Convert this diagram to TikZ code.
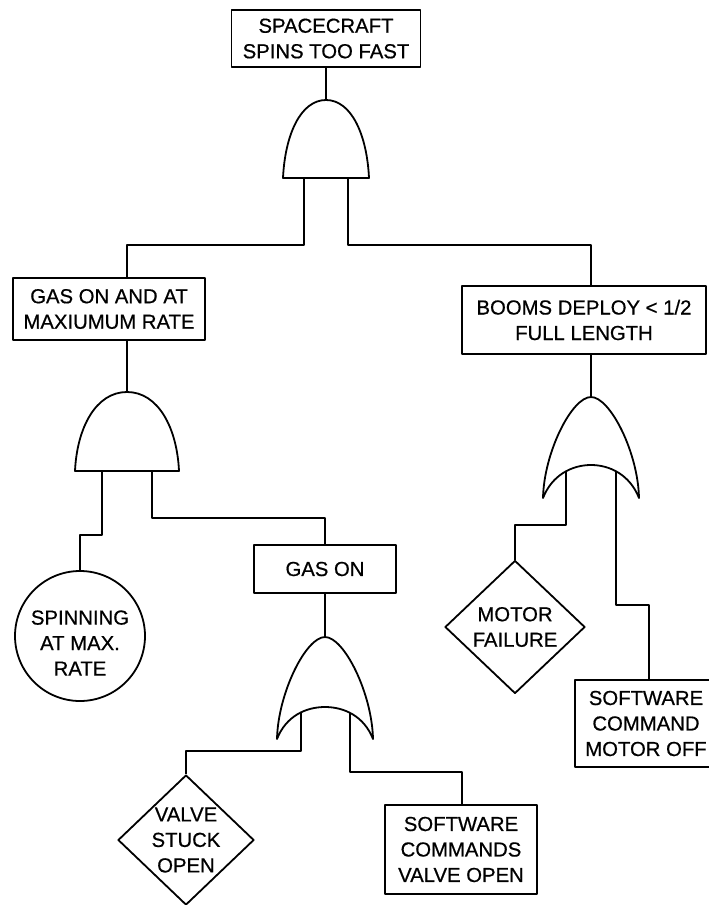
\documentclass[tikz,border=0pt]{standalone}
\usepackage{fontspec}
\setmainfont[FakeBold=0.6]{Liberation Sans}
\usetikzlibrary{shapes.geometric,calc}
\begin{document}
\begin{tikzpicture}[x=1pt,y=-1pt,
  line width=1.8pt, line join=round,
  lbl/.style={font=\fontsize{20.3}{25.5}\selectfont, align=center, inner sep=0pt},
  eventbox/.style={draw, rectangle, fill=white, lbl},
  gate/.style={draw, fill=white},
  basicev/.style={draw, circle, fill=white, inner sep=0pt, minimum size=130pt},
  undev/.style={draw, diamond, fill=white, inner sep=0pt}]
\path[use as bounding box] (0,0) rectangle (709,905);
\clip (0,0) rectangle (709,905);

% ---------- events ----------
\node[eventbox, minimum width=189pt, minimum height=57pt] (top) at (326,38.5)
  {SPACECRAFT\\SPINS TOO FAST};
\node[eventbox, minimum width=192pt, minimum height=62pt] (gasrate) at (109,309)
  {GAS ON AND AT\\MAXIUMUM RATE};
\node[eventbox, minimum width=244pt, minimum height=68pt] (booms) at (584,320)
  {BOOMS DEPLOY < 1/2\\FULL LENGTH};
\node[eventbox, minimum width=142pt, minimum height=48pt] (gason) at (325,569)
  {GAS ON};
\node[eventbox, minimum width=152pt, minimum height=89pt] (swvalve) at (461,849.5)
  {SOFTWARE\\COMMANDS\\VALVE OPEN};
\node[eventbox, minimum width=142pt, minimum height=87pt] (swmotor) at (646,723.5)
  {SOFTWARE\\COMMAND\\MOTOR OFF};

\node[basicev] (spin) at (80,636) {};
\node[lbl] (spintxt) at ($(spin.center)+(0,7)$) {SPINNING\\AT MAX.\\RATE};

\node[undev, minimum width=140pt, minimum height=133pt] (motor) at (515,627) {};
\node[lbl] (motortxt) at (motor.center) {MOTOR\\FAILURE};
\node[undev, minimum width=136pt, minimum height=130pt] (valve) at (186,840) {};
\node[lbl] (valvetxt) at (valve.center) {VALVE\\STUCK\\OPEN};

% ---------- gate anchor points ----------
% AND gate 1 (top)
\coordinate (g1top) at (326,100);
\coordinate (g1l) at (304,174);
\coordinate (g1r) at (348,174);
% AND gate 2 (left)
\coordinate (g2top) at (127,392);
\coordinate (g2l) at (102,467);
\coordinate (g2r) at (152,467);
% OR gate 3 (right)
\coordinate (g3top) at (591,397);
\coordinate (g3l) at (566,468);
\coordinate (g3r) at (616,468);
% OR gate 4 (bottom)
\coordinate (g4top) at (325,637);
\coordinate (g4l) at (301,709);
\coordinate (g4r) at (350,709);

% ---------- bends ----------
\coordinate (j1) at (127,245);
\coordinate (j2) at (591,245);
\coordinate (j3) at (80,535);
\coordinate (j4) at (325,518);
\coordinate (j5) at (186,751);
\coordinate (j6) at (462,772);
\coordinate (j7) at (515,525);
\coordinate (j8) at (649,605);

% ---------- connectors ----------
\draw (top.south) -- (g1top);
\draw (g1l) |- (j1) -- (j1 |- gasrate.north);
\draw (g1r) |- (j2) -- (j2 |- booms.north);
\draw (j1 |- gasrate.south) -- (g2top);
\draw (j2 |- booms.south) -- (g3top);
\draw (g2l) |- (j3) -- (spin.north);
\draw (g2r) |- (j4) -- (gason.north);
\draw (gason.south) -- (g4top);
\draw (g4l) |- (j5) -- (valve.north);
\draw (g4r) |- (j6) -- (j6 |- swvalve.north);
\draw (g3l) |- (j7) -- (motor.north);
\draw (g3r) |- (j8) -- (j8 |- swmotor.north);

% ---------- gates ----------
% AND gate 1
\draw[gate] (283,178) .. controls (285,135) and (300.5,100) .. (326,100)
  .. controls (351.5,100) and (367,135) .. (369,178) -- cycle;
% AND gate 2
\draw[gate] (75,471) .. controls (77,427.5) and (96,392) .. (127,392)
  .. controls (158,392) and (177,427.5) .. (179,471) -- cycle;
% OR gate 3
\draw[gate] (543,498) .. controls (544,452) and (572,397) .. (591,397)
  .. controls (610,397) and (638,452) .. (639,498)
  .. controls (630,475) and (610,465) .. (591,465)
  .. controls (572,465) and (552,475) .. (543,498) -- cycle;
% OR gate 4
\draw[gate] (277,739) .. controls (278,693) and (306,637) .. (325,637)
  .. controls (344,637) and (372,693) .. (373,739)
  .. controls (364,716) and (344,707) .. (325,707)
  .. controls (306,707) and (286,716) .. (277,739) -- cycle;
\end{tikzpicture}
\end{document}
